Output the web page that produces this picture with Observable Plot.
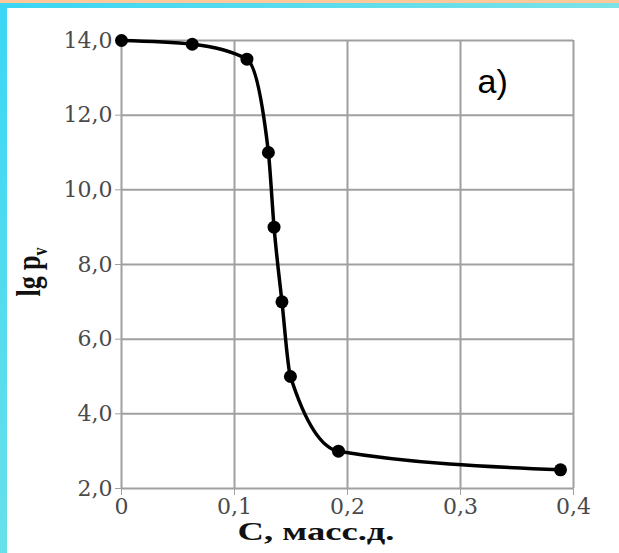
<!DOCTYPE html>
<html><head><meta charset="utf-8">
<script src="https://cdn.jsdelivr.net/npm/d3@7"></script>
<script src="https://cdn.jsdelivr.net/npm/@observablehq/plot@0.6"></script>
<style>
html,body{margin:0;padding:0;background:#fff;}
#wrap{position:relative;width:619px;height:553px;overflow:hidden;background:#fff;}
#top1{position:absolute;left:0;top:0;width:619px;height:3px;background:#ffc89a;}
#top2{position:absolute;left:0;top:3px;width:619px;height:5px;background:linear-gradient(to right,#3ad6f4,#7ce2e6);}
#left{position:absolute;left:0;top:3px;width:7px;height:550px;background:linear-gradient(to bottom,#3ad6f4,#68e0ea);}
#chart{position:absolute;left:0;top:0;}
</style></head>
<body><div id="wrap"><div id="chart"></div><div id="top1"></div><div id="top2"></div><div id="left"></div></div>
<script>
const conc = [0, 0.0626, 0.111, 0.130, 0.135, 0.142, 0.1495, 0.192, 0.3885];
const lgp = [14.0, 13.9, 13.5, 11.0, 9.0, 7.0, 5.0, 3.0, 2.5];
const xTicks = [0, 0.1, 0.2, 0.3, 0.4];
const yTicks = [2, 4, 6, 8, 10, 12, 14];
const panelLabel = "а)";
const xLabel = "С, масс.д.";

const data = conc.map((c, i) => ({c, v: lgp[i]}));
const serif = "'Liberation Serif','Times New Roman',serif";
const tickFont = "'DejaVu Serif',serif";
const fmtY = d => d.toFixed(1).replace(".", ",");
const fmtX = d => d === 0 ? "0" : d.toFixed(1).replace(".", ",");

const plot = Plot.plot({
  width: 619, height: 553,
  marginLeft: 121, marginRight: 46, marginTop: 40, marginBottom: 65,
  style: {fontFamily: tickFont, fontSize: "22px", background: "transparent", color: "#555"},
  x: {domain: [0, 0.4], ticks: xTicks, tickFormat: fmtX, label: null},
  y: {domain: [2, 14], ticks: yTicks, tickFormat: fmtY, label: null},
  marks: [
    Plot.ruleX(xTicks, {stroke: "#a0a0a0", strokeWidth: 2}),
    Plot.ruleY(yTicks, {stroke: "#a0a0a0", strokeWidth: 2}),
    Plot.axisX({ticks: xTicks, tickFormat: fmtX, tickSize: 7, tickPadding: 3, stroke: "#a0a0a0", fill: "#4a4a4a", label: null}),
    Plot.axisY({ticks: yTicks, tickFormat: fmtY, tickSize: 6, tickPadding: 3, stroke: "#a0a0a0", fill: "#4a4a4a", label: null}),
    Plot.line(data, {x: "c", y: "v", curve: "monotone-x", stroke: "#000", strokeWidth: 3.5}),
    Plot.dot(data, {x: "c", y: "v", r: 6.5, fill: "#000", stroke: "none"}),
    Plot.text([panelLabel], {x: 0.3285, y: 12.6, text: d => d, fontSize: 34, fill: "#000", lineAnchor: "bottom", fontFamily: "'Liberation Sans',Arial,sans-serif"})
  ]
});
document.getElementById("chart").appendChild(plot);

const svg = d3.select(plot);
svg.selectAll("g[aria-label$='tick label']").attr("font-size", 22).style("font-size", "22px");
svg.selectAll("g[aria-label$='tick label'] text").style("font-size", "22px");
svg.append("text")
  .attr("x", 316).attr("y", 540)
  .attr("text-anchor", "middle")
  .attr("font-family", serif).attr("font-weight", "bold").attr("font-size", 25).attr("fill", "#111")
  .attr("textLength", 157).attr("lengthAdjust", "spacingAndGlyphs")
  .text(xLabel);
const yl = svg.append("text")
  .attr("transform", "translate(40,272) rotate(-90) scale(1,1.3)")
  .attr("text-anchor", "middle")
  .attr("font-family", serif).attr("font-weight", "bold").attr("font-size", 26).attr("fill", "#111");
yl.append("tspan").text("lg p");
yl.append("tspan").attr("font-size", 16).attr("dy", 5).text("v");
</script></body></html>
